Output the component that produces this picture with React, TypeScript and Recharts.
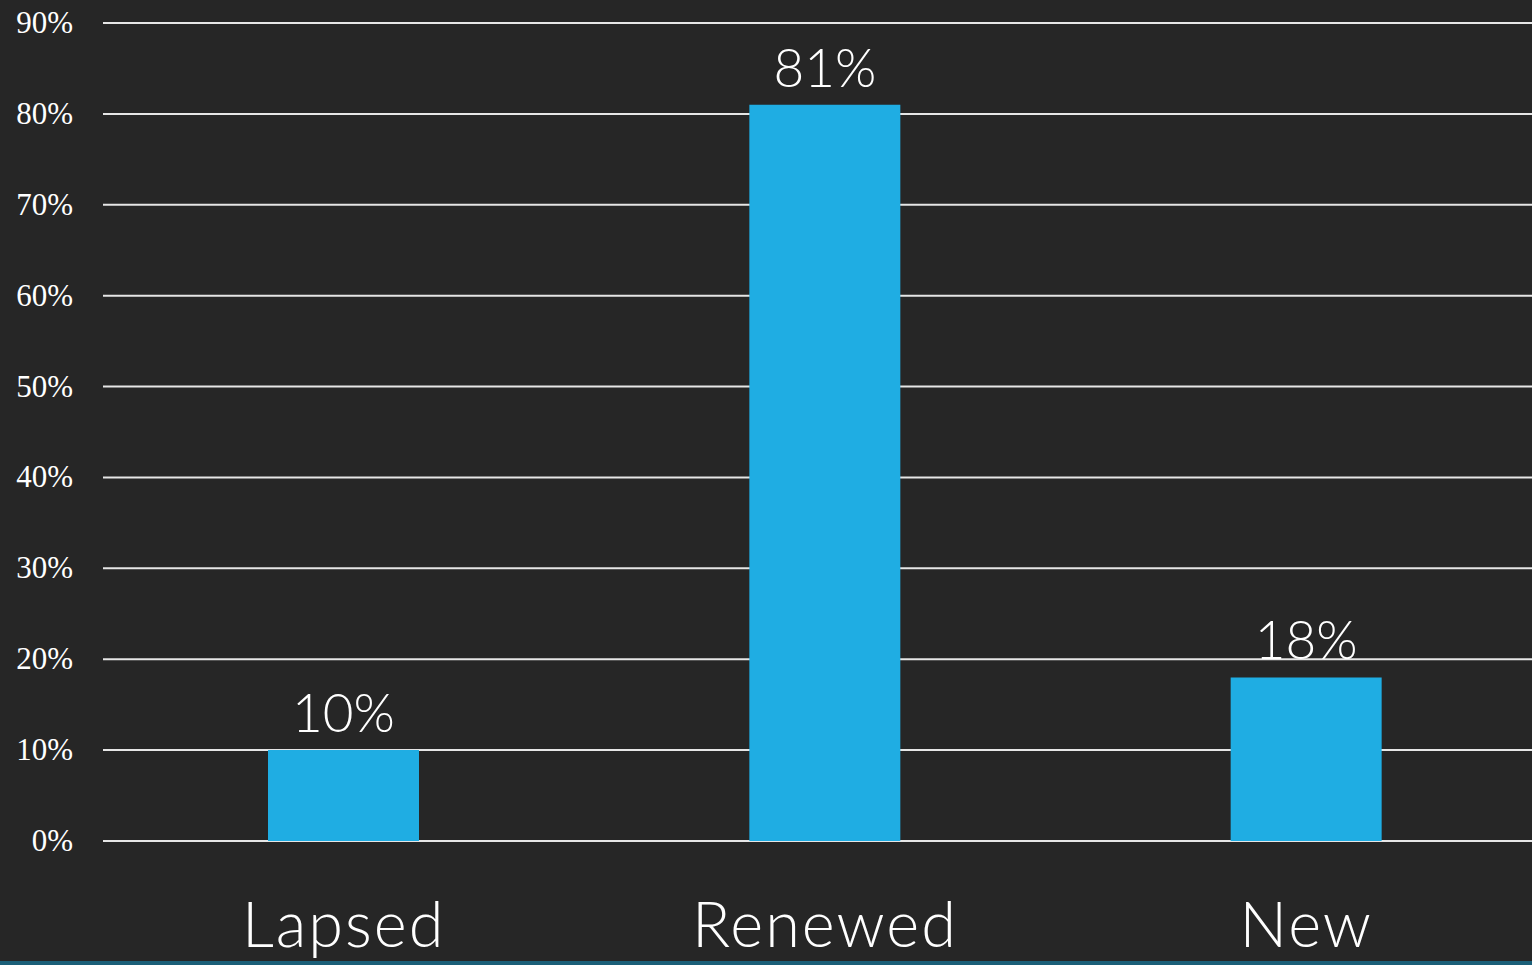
import { BarChart, Bar, XAxis, YAxis, CartesianGrid, LabelList } from 'recharts';

const categories = ['Lapsed', 'Renewed', 'New'];
const shares = [10, 81, 18];
const yTicks = [0, 10, 20, 30, 40, 50, 60, 70, 80, 90];

const data = categories.map((name, i) => ({ name, share: shares[i] }));

export default function App() {
  return (
    <div
      style={{
        position: 'fixed',
        top: 0,
        left: 0,
        width: 1532,
        height: 965,
        overflow: 'hidden',
        background: '#262626',
      }}
    >
      <div
        style={{
          position: 'absolute',
          left: 0,
          bottom: 0,
          width: 1532,
          height: 4,
          background: '#1b5f78',
        }}
      />
      <div style={{ position: 'absolute', top: 0, left: 0 }}>
        <BarChart
          width={1547}
          height={965}
          data={data}
          margin={{ top: 23, right: 0, left: 0, bottom: 0 }}
        >
          <CartesianGrid vertical={false} stroke="#e6e6e6" strokeWidth={2} />
          <XAxis
            dataKey="name"
            height={124}
            axisLine={false}
            tickLine={false}
            tickSize={0}
            tickMargin={61}
            tick={{
              fill: '#ffffff',
              fontSize: 63,
              fontFamily: 'Lato',
              fontWeight: 300,
              letterSpacing: 2,
            }}
          />
          <YAxis
            width={103}
            domain={[0, 90]}
            ticks={yTicks}
            interval={0}
            axisLine={false}
            tickLine={false}
            tickSize={0}
            tickMargin={30}
            tickFormatter={(v) => `${v}%`}
            tick={{ fill: '#ffffff', fontSize: 31, fontFamily: 'Liberation Serif', dy: -1 }}
          />
          <Bar dataKey="share" fill="#1fade3" barSize={151} isAnimationActive={false}>
            <LabelList
              dataKey="share"
              position="top"
              offset={18}
              formatter={(v) => `${v}%`}
              style={{ fill: '#ffffff', fontSize: 53, fontFamily: 'Lato', fontWeight: 300 }}
            />
          </Bar>
        </BarChart>
      </div>
    </div>
  );
}
